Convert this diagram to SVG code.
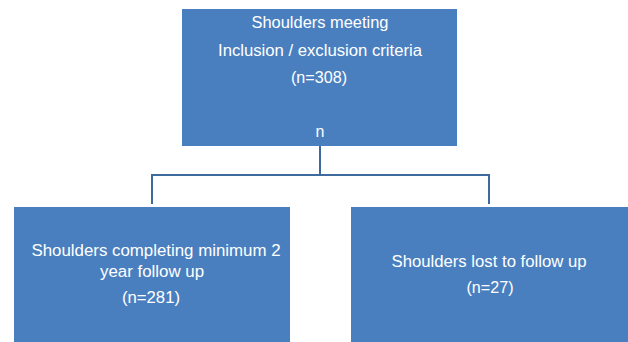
<svg xmlns="http://www.w3.org/2000/svg" width="628" height="342" viewBox="0 0 628 342">
<style>
.box{fill:#4A7FBF;}
.t{font-family:"Liberation Sans",Arial,sans-serif;font-size:16px;fill:#ffffff;text-anchor:middle;}
.c{fill:none;stroke:#3D6B9E;stroke-width:2;}
</style>
<rect width="628" height="342" fill="#ffffff"/>
<g id="connectors">
<path class="c" d="M320,146 V175 M152,204 V175 H489 V204"/>
</g>
<g id="top">
<rect class="box" x="182" y="9" width="275" height="137"/>
<text class="t" x="320" y="28" textLength="137" lengthAdjust="spacingAndGlyphs">Shoulders meeting</text>
<text class="t" x="320" y="56" textLength="204" lengthAdjust="spacingAndGlyphs">Inclusion / exclusion criteria</text>
<text class="t" x="319" y="83" textLength="56" lengthAdjust="spacingAndGlyphs">(n=308)</text>
<text class="t" x="320" y="137">n</text>
</g>
<g id="left">
<rect class="box" x="14" y="207" width="276" height="135"/>
<text class="t" x="156" y="256" textLength="249" lengthAdjust="spacingAndGlyphs">Shoulders completing minimum 2</text>
<text class="t" x="152" y="277" textLength="104" lengthAdjust="spacingAndGlyphs">year follow up</text>
<text class="t" x="151" y="303" textLength="58" lengthAdjust="spacingAndGlyphs">(n=281)</text>
</g>
<g id="right">
<rect class="box" x="351" y="207" width="277" height="135"/>
<text class="t" x="489" y="267" textLength="195" lengthAdjust="spacingAndGlyphs">Shoulders lost to follow up</text>
<text class="t" x="490" y="293" textLength="47" lengthAdjust="spacingAndGlyphs">(n=27)</text>
</g>
</svg>
